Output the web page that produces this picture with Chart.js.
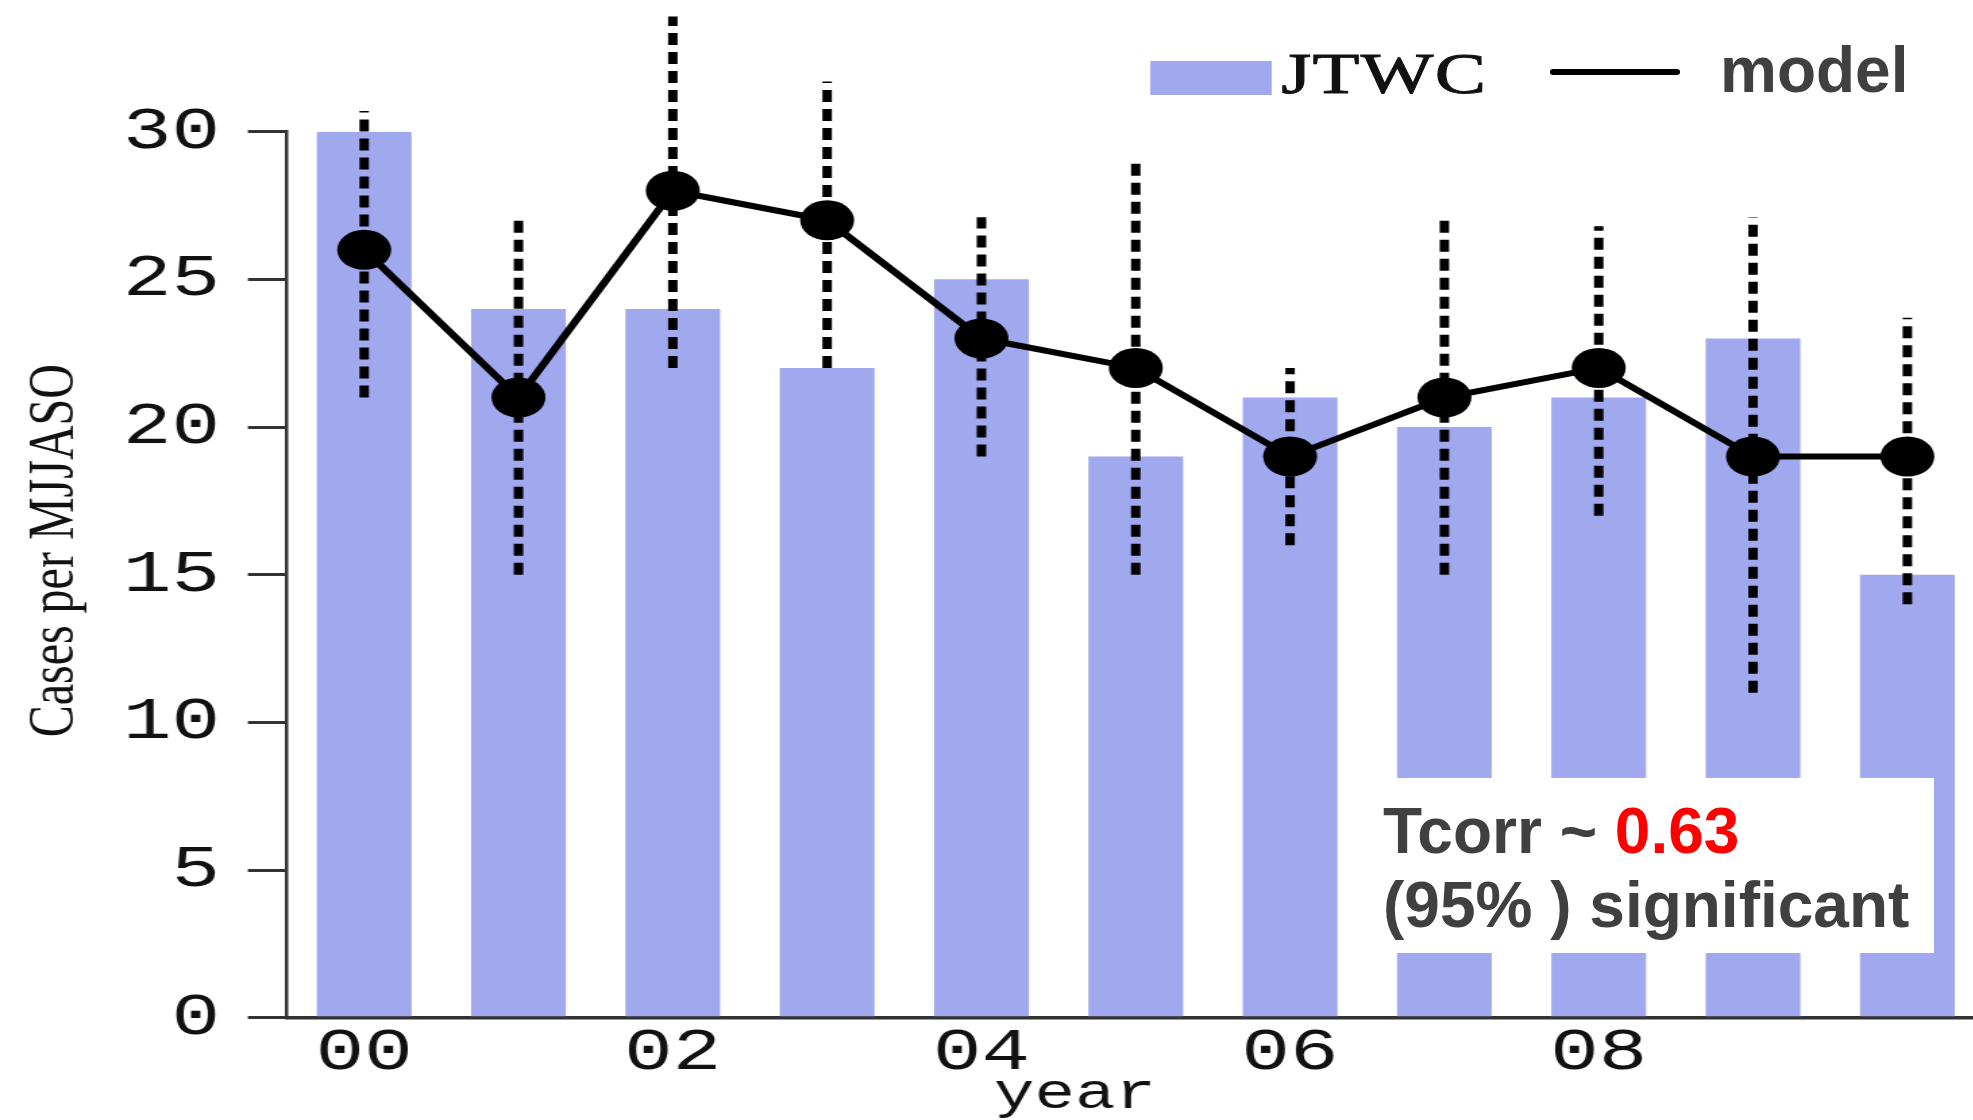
<!DOCTYPE html>
<html>
<head>
<meta charset="utf-8">
<script src="https://cdn.jsdelivr.net/npm/chart.js@4.4.1/dist/chart.umd.min.js"></script>
<style>
  html, body { margin: 0; padding: 0; background: #fff; width: 1973px; height: 1120px; overflow: hidden; }
  /* the plot itself is laid out narrow and widened horizontally */
  #stage { position: absolute; left: 0; top: 0; width: 1490px; height: 1120px; transform: scaleX(1.35); transform-origin: 0 0; }
  #jtwcKey { position: absolute; left: 852px; top: 61px; width: 90px; height: 34px; background: #A0A8EE; }
  #jtwcText { position: absolute; left: 949px; top: 45px; font: 57px/57px "Liberation Serif", serif; letter-spacing: 1px; color: #111; -webkit-text-stroke: 0.9px #111; white-space: nowrap; }
  #modelKey { position: absolute; left: 1550px; top: 69px; width: 130px; height: 6px; background: #000; border-radius: 3px; }
  #modelText { position: absolute; left: 1720px; top: 38px; font: bold 64px/64px "Liberation Sans", Arial, sans-serif; color: #404040; white-space: nowrap; }
  #note { position: absolute; left: 1365px; top: 778px; width: 569px; height: 175px; background: #fff; box-sizing: border-box; padding: 16px 0 0 18px; font: bold 64px/74px "Liberation Sans", Arial, sans-serif; color: #404040; white-space: nowrap; }
  #note .v { color: #ff0000; }
</style>
</head>
<body>
<div id="stage">
  <canvas id="chart"></canvas>
  <div id="jtwcKey"></div>
  <div id="jtwcText">JTWC</div>
</div>
<div id="modelKey"></div>
<div id="modelText">model</div>
<div id="note">Tcorr ~ <span class="v">0.63</span><br>(95% ) significant</div>

<script>
// Seasonal (May–Oct) case counts per year
const years = ['00', '01', '02', '03', '04', '05', '06', '07', '08', '09', '10'];
const tickLabels = ['00', '', '02', '', '04', '', '06', '', '08', '', ''];
const jtwc = [30, 24, 24, 22, 25, 19, 21, 20, 21, 23, 15];
const model = [26, 21, 28, 27, 23, 22, 19, 21, 22, 19, 19];
const spreadLow = [21, 15, 22, 22, 19, 15, 16, 15, 17, 11, 14];
const spreadHigh = [30.7, 27, 33.9, 31.7, 27.1, 29.1, 22, 27, 26.8, 27.1, 23.7];
const yTicks = [0, 5, 10, 15, 20, 25, 30];

// vertical spread segments, one per year, separated by gaps
const spreadData = years.flatMap((yr, i) => [
  { x: yr, y: spreadLow[i] },
  { x: yr, y: spreadHigh[i] },
  { x: yr, y: null }
]);

const tickFont = { family: '"Liberation Mono", monospace', size: 60, lineHeight: 1 };

new Chart(document.getElementById('chart'), {
  type: 'bar',
  data: {
    labels: years,
    datasets: [
      {
        type: 'line',
        label: 'model',
        data: model,
        order: 0,
        borderColor: '#000',
        borderWidth: 6,
        tension: 0,
        pointRadius: 20,
        pointBackgroundColor: '#000',
        pointBorderWidth: 0,
        clip: false
      },
      {
        type: 'line',
        label: 'spread',
        data: spreadData,
        order: 1,
        borderColor: '#000',
        borderWidth: 7,
        borderDash: [12, 7],
        pointRadius: 0,
        spanGaps: false,
        clip: false
      },
      {
        type: 'bar',
        label: 'JTWC',
        data: jtwc,
        order: 2,
        backgroundColor: '#A0A8EE',
        borderWidth: 0,
        barPercentage: 0.614,
        categoryPercentage: 1
      }
    ]
  },
  options: {
    responsive: true,
    maintainAspectRatio: false,
    animation: false,
    layout: { padding: { top: 131.7, right: 6.8, bottom: 0, left: 0 } },
    plugins: {
      legend: { display: false },
      tooltip: { enabled: false }
    },
    scales: {
      x: {
        type: 'category',
        offset: true,
        afterFit: (s) => { s.height = 102.3; },
        grid: { display: false, drawTicks: false },
        border: { display: true, color: '#333', width: 3.5 },
        ticks: {
          autoSkip: false,
          maxRotation: 0,
          padding: 5.3,
          color: '#111',
          font: tickFont,
          callback: (v, i) => tickLabels[i]
        },
        title: {
          display: true,
          text: 'year\u00a0\u00a0\u00a0',
          color: '#111',
          font: { family: '"Liberation Mono", monospace', size: 50, lineHeight: 1 },
          padding: { top: 0, bottom: 0 }
        }
      },
      y: {
        min: 0,
        max: 30,
        afterFit: (s) => { s.width = 212.6; },
        afterBuildTicks: (s) => { s.ticks = yTicks.map(v => ({ value: v })); },
        grid: { display: true, drawOnChartArea: false, drawTicks: true, tickLength: 29, color: '#333', lineWidth: 3 },
        border: { display: true, color: '#333', width: 2.5 },
        ticks: {
          padding: 20.6,
          color: '#111',
          font: tickFont
        },
        title: {
          display: true,
          text: '\u00a0\u00a0\u00a0\u00a0Cases per MJJASO',
          color: '#111',
          font: { family: '"Liberation Serif", serif', size: 48, lineHeight: 1.2 },
          padding: { top: 12.6, bottom: 0 }
        }
      }
    }
  }
});
</script>
</body>
</html>
